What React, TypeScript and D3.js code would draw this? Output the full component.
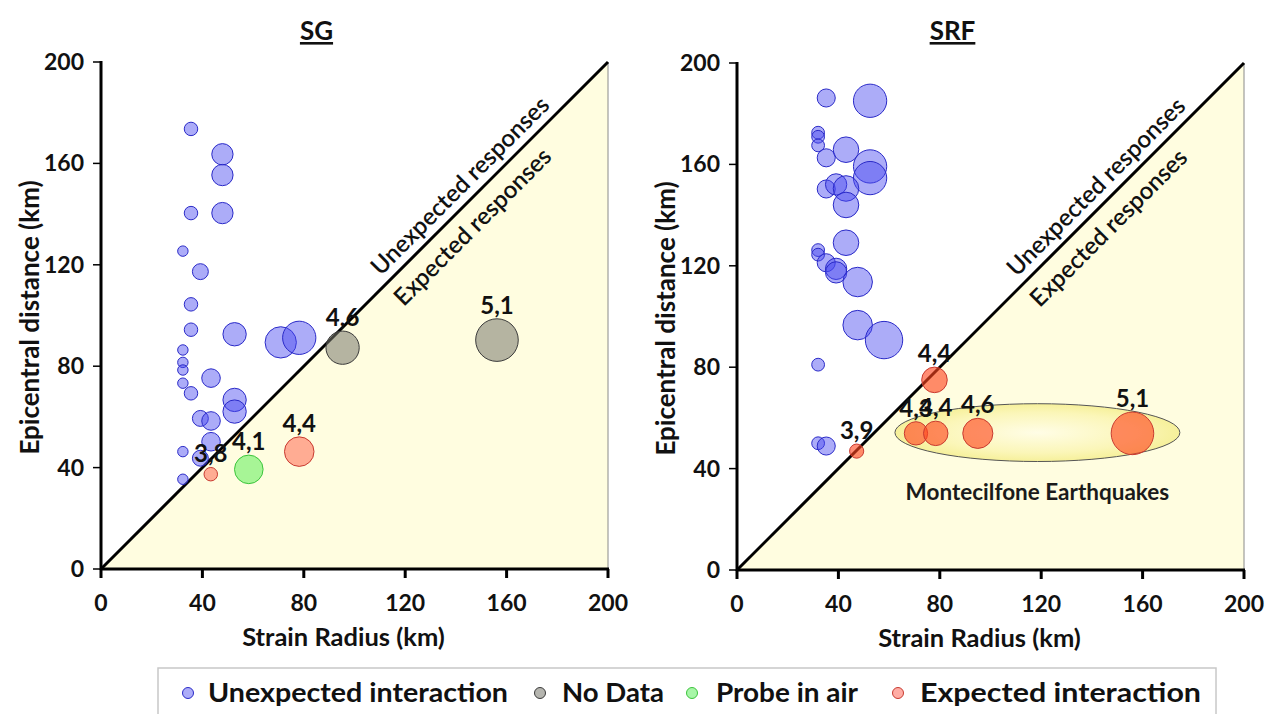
import React from "react";
import * as d3 from "d3";

// ---------- DATA ----------
const ticks = [0, 40, 80, 120, 160, 200];
const legendNames = ["Unexpected interaction", "No Data", "Probe in air", "Expected interaction"];

// SG panel
const sgStrain = [35.5, 47.9, 47.9, 35.5, 47.9, 32.3, 39.2, 35.5, 35.5, 52.7, 70.9, 78.2, 32.3, 32.3, 32.3, 32.3, 35.5, 43.4, 52.7, 52.7, 39.2, 43.4, 43.4, 32.3, 39.2, 32.3, 95.3, 156.2, 58.3, 43.3, 78.2];
const sgDist = [173.6, 163.6, 155.4, 140.4, 140.4, 125.4, 117.3, 104.4, 94.4, 92.6, 89.4, 91.2, 86.4, 81.5, 78.5, 73.3, 69.3, 75.3, 66.7, 62.1, 59.4, 58.4, 50.2, 46.3, 43.7, 35.4, 87.3, 90.3, 39.3, 37.4, 46.3];
const sgBubble = [10, 25, 25, 10, 25, 6, 14, 10, 10, 30, 54, 61, 6, 6, 6, 6, 10, 19, 30, 30, 14, 19, 19, 6, 14, 6, 61, 100, 45, 10, 48];
const sgClass = [0, 0, 0, 0, 0, 0, 0, 0, 0, 0, 0, 0, 0, 0, 0, 0, 0, 0, 0, 0, 0, 0, 0, 0, 0, 0, 1, 1, 2, 3, 3];
const sgLabel = ["", "", "", "", "", "", "", "", "", "", "", "", "", "", "", "", "", "", "", "", "", "", "", "", "", "", "4,6", "5,1", "4,1", "3,8", "4,4"];

// SRF panel
const srfStrain = [35.2, 52.5, 32, 32, 32, 35.2, 43, 52.5, 52.5, 35.2, 39.1, 43, 43, 43, 32, 32, 35.2, 39.1, 39.1, 47.6, 47.6, 58, 32, 32, 35.2, 47.2, 77.9, 70.6, 78.4, 95, 156];
const srfDist = [186.2, 185.1, 172.5, 170.9, 167.5, 162.6, 165.8, 159.2, 154.6, 150.3, 152.1, 150.5, 144, 129.1, 126.2, 124.4, 121.2, 118.8, 117.4, 113.6, 96.6, 90.7, 81, 50, 48.9, 46.9, 75, 53.9, 53.9, 53.9, 53.9];
const srfBubble = [18, 61, 9, 9, 9, 18, 36, 61, 61, 18, 25, 36, 36, 36, 9, 9, 18, 25, 25, 48, 48, 77, 9, 9, 18, 11, 36, 30, 33, 50, 100];
const srfClass = [0, 0, 0, 0, 0, 0, 0, 0, 0, 0, 0, 0, 0, 0, 0, 0, 0, 0, 0, 0, 0, 0, 0, 0, 0, 3, 3, 3, 3, 3, 3];
const srfLabel = ["", "", "", "", "", "", "", "", "", "", "", "", "", "", "", "", "", "", "", "", "", "", "", "", "", "3,9", "4,4", "4,3", "4,4", "4,6", "5,1"];

// Montecilfone annotation ellipse (data units: centre x, centre y, half-width, half-height)
const montecilfone = [118.5, 54.2, 56.2, 11.4];

// ---------- STYLES ----------
const FONT = "Lato, 'Open Sans', sans-serif";
const classFill = ["rgba(70,70,240,0.45)", "rgba(120,120,110,0.55)", "rgba(60,235,60,0.45)", "rgba(255,60,40,0.42)"];
const classStroke = ["#2a2ac8", "#3a3a3a", "#3cc43c", "#c83a30"];
const srfRedFill = "rgba(255,70,30,0.62)";

const rScale = d3.scaleSqrt().domain([0, 100]).range([0, 21.3]);

type PanelProps = {
  title: string;
  x0: number;
  y0: number;
  len: number;
  xs: number[];
  ys: number[];
  bs: number[];
  cs: number[];
  ls: string[];
  strong?: boolean;
  annot?: boolean;
};

function Panel({ title, x0, y0, len, xs, ys, bs, cs, ls, strong, annot }: PanelProps) {
  const x = d3.scaleLinear().domain([0, 200]).range([x0, x0 + len]);
  const y = d3.scaleLinear().domain([0, 200]).range([y0, y0 - len]);
  const tri = `M${x(0)},${y(0)}L${x(200)},${y(200)}L${x(200)},${y(0)}Z`;
  const order = d3.range(xs.length);
  const tA = 146.4;
  const tB = 140.8;
  const gradId = `grad-${title}`;
  return (
    <g>
      <defs>
        <radialGradient id={gradId} cx="50%" cy="50%" r="50%">
          <stop offset="0%" stopColor="#fffde6" />
          <stop offset="70%" stopColor="#fbf6b8" />
          <stop offset="100%" stopColor="#f6f09a" />
        </radialGradient>
      </defs>
      <path d={tri} fill="#fffde0" stroke="none" />
      <line x1={x(200)} x2={x(200)} y1={y(200)} y2={y(0)} stroke="#8a8a8a" strokeWidth={1} />
      {/* title */}
      <text x={x(0) + len / 2 - 38} y={40} textAnchor="middle" fontFamily={FONT} fontWeight={700} fontSize={26} textDecoration="underline" fill="#111">{title}</text>
      {/* annotation */}
      {annot && (
        <g>
          <ellipse cx={x(montecilfone[0])} cy={y(montecilfone[1])} rx={x(montecilfone[2]) - x(0)} ry={y(0) - y(montecilfone[3])} fill={`url(#${gradId})`} stroke="#555" strokeWidth={1} />
          <text x={x(66.5)} y={y(27.5)} fontFamily={FONT} fontWeight={700} fontSize={22.5} fill="#1a1a1a">Montecilfone Earthquakes</text>
        </g>
      )}
      {/* diagonal */}
      <line x1={x(0)} y1={y(0)} x2={x(200)} y2={y(200)} stroke="#000" strokeWidth={3} />
      <text transform={`translate(${x(tA)},${y(tA)}) rotate(-45)`} dy={-9} textAnchor="middle" fontFamily={FONT} fontWeight={600} fontSize={24} fill="#111">Unexpected responses</text>
      <text transform={`translate(${x(tB)},${y(tB)}) rotate(-45)`} dy={29} textAnchor="middle" fontFamily={FONT} fontWeight={600} fontSize={24} fill="#111">Expected responses</text>
      {/* axes */}
      <line x1={x(0)} x2={x(0)} y1={y(200) - 1} y2={y(0) + 1} stroke="#000" strokeWidth={3} />
      <line x1={x(0) - 1} x2={x(200) + 1} y1={y(0)} y2={y(0)} stroke="#000" strokeWidth={3} />
      {ticks.map((t) => (
        <g key={"y" + t}>
          <line x1={x(0) - 8} x2={x(0)} y1={y(t)} y2={y(t)} stroke="#000" strokeWidth={1.5} />
          <text x={x(0) - 17} y={y(t)} dy="0.35em" textAnchor="end" fontFamily={FONT} fontWeight={700} fontSize={23} fill="#111">{t}</text>
        </g>
      ))}
      {ticks.map((t) => (
        <g key={"x" + t}>
          <line x1={x(t)} x2={x(t)} y1={y(0)} y2={y(0) + 9} stroke="#000" strokeWidth={3} />
          <text x={x(t)} y={y(0) + 34} dy="0.35em" textAnchor="middle" fontFamily={FONT} fontWeight={700} fontSize={23} fill="#111">{t}</text>
        </g>
      ))}
      <text x={x(0) + len / 2 - 11} y={y(0) + 77} textAnchor="middle" fontFamily={FONT} fontWeight={700} fontSize={25.5} fill="#111">Strain Radius (km)</text>
      <text transform={`translate(${x(0) - 71},${y(0) - len / 2 + 2}) rotate(-90)`} dy="0.35em" textAnchor="middle" fontFamily={FONT} fontWeight={700} fontSize={26} fill="#111">Epicentral distance (km)</text>
      {/* bubbles */}
      {order.map((i) => {
        const c = cs[i];
        const fill = strong && c === 3 ? srfRedFill : classFill[c];
        return <circle key={"c" + i} cx={x(xs[i])} cy={y(ys[i])} r={rScale(bs[i])} fill={fill} stroke={classStroke[c]} strokeWidth={1} />;
      })}
      {order.filter((i) => ls[i]).map((i) => (
        <text key={"l" + i} x={x(xs[i])} y={y(ys[i]) - rScale(bs[i]) - 5} textAnchor="middle" fontFamily={FONT} fontWeight={700} fontSize={24} fill="#111">{ls[i]}</text>
      ))}
    </g>
  );
}

export default function App() {
  const legendMarkX = [188, 540, 692, 898];
  const legendTextX = [208, 562, 716, 920];
  const legendTextW = [300, 102, 142, 281];
  return (
    <svg width={1266} height={714} viewBox="0 0 1266 714" style={{ position: "absolute", left: 0, top: 0, background: "#fff" }}>
      <rect x={0} y={0} width={1266} height={714} fill="#fff" />
      <Panel title="SG" x0={101} y0={569} len={507} xs={sgStrain} ys={sgDist} bs={sgBubble} cs={sgClass} ls={sgLabel} />
      <Panel title="SRF" x0={737} y0={570} len={507} xs={srfStrain} ys={srfDist} bs={srfBubble} cs={srfClass} ls={srfLabel} strong annot />
      {/* legend */}
      <rect x={158} y={668} width={1058} height={60} fill="#fff" stroke="#c8c8c8" strokeWidth={1.5} />
      {legendNames.map((n, i) => (
        <g key={n}>
          <circle cx={legendMarkX[i]} cy={693} r={5.5} fill={classFill[i]} stroke={classStroke[i]} strokeWidth={1} />
          <text x={legendTextX[i]} y={693} dy="0.35em" textLength={legendTextW[i]} lengthAdjust="spacingAndGlyphs" fontFamily={FONT} fontWeight={700} fontSize={27} fill="#111">{n}</text>
        </g>
      ))}
    </svg>
  );
}
